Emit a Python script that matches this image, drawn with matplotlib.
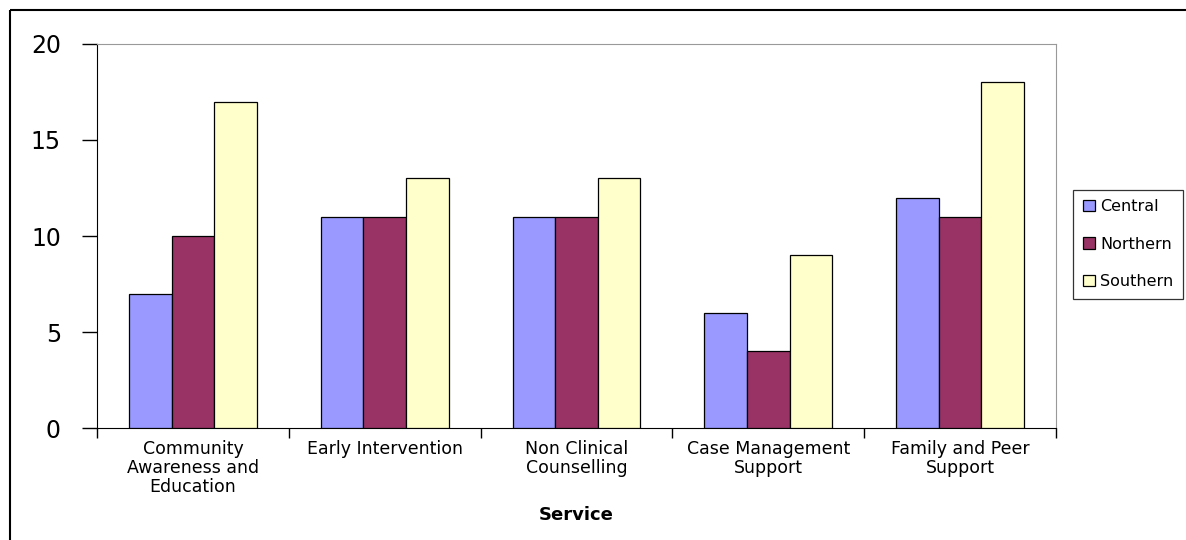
import numpy as np
import matplotlib.pyplot as plt
from matplotlib.lines import Line2D

plt.rcParams['font.family'] = ['DejaVu Sans']

services = ['Community\nAwareness and\nEducation', 'Early Intervention',
            'Non Clinical\nCounselling', 'Case Management\nSupport',
            'Family and Peer\nSupport']
central = [7, 11, 11, 6, 12]
northern = [10, 11, 11, 4, 11]
southern = [17, 13, 13, 9, 18]

fig = plt.figure(figsize=(11.86, 5.4), dpi=100)
ax = fig.add_axes([97 / 1186, 112 / 540, 959 / 1186, 384 / 540])

x = np.arange(len(services))
w = 2 / 9
kw = dict(width=w, edgecolor='black', linewidth=0.9, zorder=3)
ax.bar(x - w, central, color='#9999FF', label='Central', **kw)
ax.bar(x, northern, color='#993366', label='Northern', **kw)
ax.bar(x + w, southern, color='#FFFFCC', label='Southern', **kw)

ax.set_xlim(-0.5, len(services) - 0.5)
ax.set_ylim(0, 20)
ax.set_yticks([0, 5, 10, 15, 20])
ax.tick_params(axis='y', labelsize=17, length=11, width=1, pad=15, direction='out')
ax.set_xticks(np.arange(len(services) + 1) - 0.5, minor=False)
ax.set_xticklabels([''] * (len(services) + 1))
ax.tick_params(axis='x', length=7, width=1, direction='out')
ax.set_xticks(x, minor=True)
ax.set_xticklabels(services, minor=True, fontsize=12.5, linespacing=1.05)
ax.tick_params(axis='x', which='minor', length=0, pad=9)

for s in ['top', 'right']:
    ax.spines[s].set_color('#999999')
ax.spines['left'].set_color('black')
ax.spines['bottom'].set_color('black')

ax.set_xlabel('Service', fontsize=13, fontweight='bold', labelpad=7)

leg = ax.legend(loc='center left', bbox_to_anchor=(1.0177, 0.479), fontsize=11.5,
                frameon=True, fancybox=False, edgecolor='black', labelspacing=1.4,
                handlelength=0.75, handleheight=0.75, handletextpad=0.35,
                borderpad=0.6, borderaxespad=0)
leg.get_frame().set_linewidth(0.9)

# outer chart frame (left and top edges only)
fig.add_artist(Line2D([10 / 1186, 10 / 1186], [0, 530 / 540], color='black', lw=1.5,
                      solid_capstyle='butt'))
fig.add_artist(Line2D([10 / 1186, 1186 / 1186], [530 / 540, 530 / 540], color='black',
                      lw=1.5, solid_capstyle='butt'))

fig.savefig('out.png', dpi=100)
